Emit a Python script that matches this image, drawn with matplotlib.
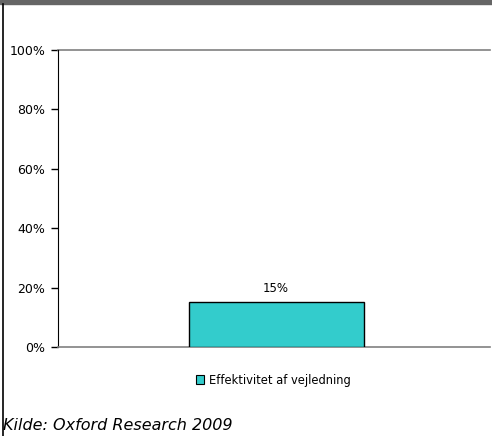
import matplotlib.pyplot as plt
from matplotlib.lines import Line2D
from matplotlib.patches import Rectangle
from matplotlib.ticker import PercentFormatter

categories = ["Effektivitet af vejledning"]
values = [15]
y_ticks = [0, 20, 40, 60, 80, 100]
source = "Kilde: Oxford Research 2009"

fig = plt.figure(figsize=(4.92, 4.36), dpi=100)
W, H = 492, 436
ax = fig.add_axes([58 / W, 1 - 347 / H, (490 - 58) / W, (347 - 50) / H])

bars = ax.bar([0.005], values, width=0.405, color="#33CCCC", edgecolor="black", linewidth=1.0, zorder=3)
ax.set_xlim(-0.5, 0.5)
ax.set_ylim(0, 100)
ax.set_yticks(y_ticks)
ax.yaxis.set_major_formatter(PercentFormatter(decimals=0))
ax.set_xticks([])
ax.tick_params(axis="y", length=5, width=1, direction="out", labelsize=9, pad=4)

for s in ["top", "right"]:
    ax.spines[s].set_visible(False)
ax.spines["left"].set_color("black")
ax.spines["bottom"].set_color("#808080")
ax.spines["bottom"].set_linewidth(1.2)
ax.axhline(100, color="#808080", linewidth=1.2, clip_on=False)

for b, v in zip(bars, values):
    ax.text(b.get_x() + b.get_width() / 2, v + 2.5, f"{v}%", ha="center", va="bottom", fontsize=8.5)

handle = Rectangle((0, 0), 1, 1, facecolor="#33CCCC", edgecolor="black", linewidth=0.8)
fig.legend([handle], categories, loc="center", bbox_to_anchor=(0.555, 1 - 380 / H),
           frameon=False, fontsize=8.3, handlelength=0.7, handleheight=0.7, handletextpad=0.4)

fig.text(3 / W, 1 - 425 / H, source, fontsize=11.5, style="italic", va="center", ha="left")

# top band and left border
fig.add_artist(Rectangle((0, 1 - 4 / H), 1, 4 / H, transform=fig.transFigure, color="#666666"))
fig.add_artist(Line2D([3 / W, 3 / W], [0, 1 - 4 / H], transform=fig.transFigure, color="black", linewidth=1.2))

fig.savefig("out.png", dpi=100)
